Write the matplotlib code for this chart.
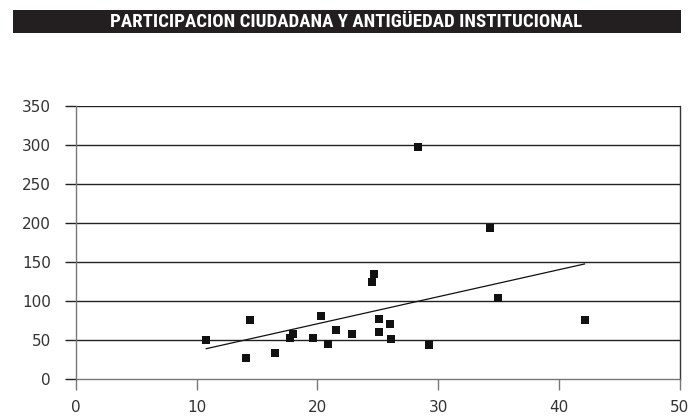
import matplotlib
matplotlib.use("Agg")
import matplotlib.pyplot as plt
from matplotlib.patches import Rectangle
from matplotlib import font_manager as fm
import numpy as np

title = "PARTICIPACION CIUDADANA Y ANTIGÜEDAD INSTITUCIONAL"
x_vals = [10.8, 14.1, 14.4, 16.5, 17.7, 18.0, 19.6, 20.3, 20.9, 21.5, 22.9,
          24.5, 24.7, 25.1, 25.1, 26.0, 26.1, 28.3, 29.2, 34.3, 34.9, 42.1]
y_vals = [50, 26, 75, 33, 52, 57, 52, 81, 44, 62, 58,
          124, 135, 76, 60, 70, 51, 298, 43, 193, 103, 75]
x_ticks = [0, 10, 20, 30, 40, 50]
y_ticks = [0, 50, 100, 150, 200, 250, 300, 350]


def has_font(name):
    try:
        fm.findfont(fm.FontProperties(family=name, weight="bold"),
                    fallback_to_default=False)
        return True
    except Exception:
        return False


title_family = "Liberation Sans"
for cand in ["Liberation Sans Narrow", "Roboto Condensed", "Open Sans Condensed",
             "DejaVu Sans Condensed", "Liberation Sans"]:
    if has_font(cand):
        title_family = cand
        break

W, H = 693, 416
fig = plt.figure(figsize=(W / 100, H / 100), dpi=100)

# title bar
fig.patches.append(Rectangle((13 / W, 1 - 33 / H), (681 - 13) / W, 23 / H,
                             transform=fig.transFigure, facecolor="#231f20",
                             edgecolor="none"))
t = fig.text(346 / W, 1 - 22 / H, title, color="white", ha="center", va="center",
             fontsize=12, fontweight="bold", family=[title_family, "DejaVu Sans"])
renderer = fig.canvas.get_renderer()
w = t.get_window_extent(renderer).width
target = 466.0
t.set_fontsize(min(14.5, 12 * target / w))

ax = fig.add_axes([75.7 / W, 1 - 378.7 / H, (680 - 75.7) / W, (378.7 - 106) / H])

x = np.array(x_vals)
y = np.array(y_vals)
ax.scatter(x, y, marker="s", s=26, color="#111111", zorder=3, linewidths=0)

m, b = np.polyfit(x, y, 1)
xs = np.array([x.min(), x.max()])
ax.plot(xs, m * xs + b, color="#111111", lw=0.9, zorder=2)

ax.set_xlim(0, 50)
ax.set_ylim(0, 350)
ax.set_xticks(x_ticks)
ax.set_yticks(y_ticks)

for yt in y_ticks[1:]:
    ax.axhline(yt, color="#222222", lw=1.0, zorder=1)

ax.spines["top"].set_visible(False)
ax.spines["left"].set_color("#777777")
ax.spines["bottom"].set_color("#777777")
ax.spines["right"].set_color("#333333")
for s in ax.spines.values():
    s.set_linewidth(1.0)

ax.tick_params(axis="y", direction="out", length=8, width=1.0, color="#222222",
               pad=10, labelsize=11, labelcolor="#333333")
ax.tick_params(axis="x", direction="out", length=8, width=1.0, color="#777777",
               pad=7, labelsize=11, labelcolor="#333333")
for lab in ax.get_xticklabels() + ax.get_yticklabels():
    lab.set_family(["DejaVu Sans"])

fig.savefig("out.png", dpi=100)
